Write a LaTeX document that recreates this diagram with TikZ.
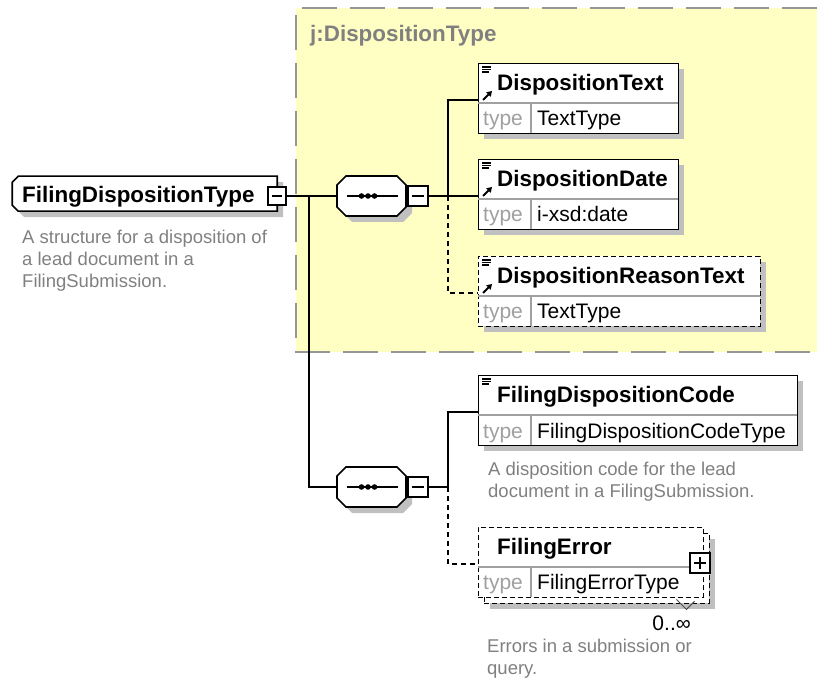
\documentclass[tikz,border=0pt]{standalone}
\usepackage{fontspec}
\setmainfont{Liberation Sans}
\usetikzlibrary{positioning,calc,arrows.meta,backgrounds}

\definecolor{groupfill}{RGB}{255,255,196}
\definecolor{groupline}{RGB}{150,150,150}
\definecolor{shadegrey}{RGB}{192,192,192}
\definecolor{docgrey}{RGB}{128,128,128}
\definecolor{typegrey}{RGB}{160,160,160}

\tikzset{every picture/.style={line width=1.6pt}}
\tikzset{
  conn/.style={draw=black, line width=1.6pt},
  optconn/.style={conn, dash pattern=on 5pt off 4pt},
  elbox/.style={draw=black, fill=white, rectangle, inner sep=0pt, anchor=north west, minimum height=70pt},
  optbox/.style={elbox, dash pattern=on 5pt off 3pt},
  split/.style={draw=typegrey, line width=1.2pt},
  holder/.style={rectangle, draw=none, inner sep=0pt},
  pmbox/.style={draw=black, fill=white, rectangle, inner sep=0pt, minimum size=20pt, line width=1.4pt,
    path picture={\draw[line width=1.2pt] ($(path picture bounding box.west)!0.2!(path picture bounding box.east)$) -- ($(path picture bounding box.west)!0.8!(path picture bounding box.east)$);}},
  plusbox/.style={pmbox,
    path picture={\draw[line width=1.2pt] ($(path picture bounding box.west)!0.2!(path picture bounding box.east)$) -- ($(path picture bounding box.west)!0.8!(path picture bounding box.east)$);
      \draw[line width=1.2pt] ($(path picture bounding box.south)!0.2!(path picture bounding box.north)$) -- ($(path picture bounding box.south)!0.8!(path picture bounding box.north)$);}},
  elname/.style={font=\fontsize{22.4}{26}\selectfont\bfseries, inner sep=0pt, anchor=base west},
  tyname/.style={font=\fontsize{21}{24}\selectfont, text=typegrey, inner sep=0pt, anchor=base west},
  tyval/.style={font=\fontsize{21}{24}\selectfont, inner sep=0pt, anchor=base west},
  doc/.style={font=\fontsize{18.5}{22}\selectfont, text=docgrey, align=left, inner sep=0pt, anchor=north west},
  icon/.style={line width=1.1pt},
  refarrow/.style={line width=1.8pt, -{Triangle[length=5pt,width=6pt]}},
  % octagon of a sequence compositor, 69 x 40
  seqshape/.pic={\path[pic actions, line width=1.6pt] (-25.5,-20) -- (25.5,-20) -- (34.5,-11) -- (34.5,11) -- (25.5,20) -- (-25.5,20) -- (-34.5,11) -- (-34.5,-11) -- cycle;},
  % complex type box, 265 x 35, left corners cut
  typeshape/.pic={\path[pic actions, line width=1.6pt] (-126.5,-17.5) -- (132.5,-17.5) -- (132.5,17.5) -- (-126.5,17.5) -- (-132.5,11.5) -- (-132.5,-11.5) -- cycle;},
}

\begin{document}
\begin{tikzpicture}[x=1pt,y=1pt,yscale=-1]
\useasboundingbox (0,0) rectangle (817,679);

%Group j:DispositionType
\begin{pgfonlayer}{background}
\fill[groupfill] (296,8) rectangle (817,352);
\draw[groupline, line width=2pt, dash pattern=on 35pt off 13pt] (817,8) -- (296,8) -- (296,352) -- (817,352);
\end{pgfonlayer}
\node[elname, text=docgrey] (grouplabel) at (310,42) {j:DispositionType};

%Root complex type
\node[holder, minimum width=265pt, minimum height=35pt, anchor=north west] (root) at (12,176) {};
\pic[draw=black, fill=white] at (root.center) {typeshape};
\node[elname] (rootname) at ($(root.north west)+(10,27)$) {FilingDispositionType};
\node[pmbox, minimum size=18pt] (rootpm) at (277,196) {};
\node[doc] (rootdoc) at (22,229.5) {A structure for a disposition of\\a lead document in a\\FilingSubmission.};
\coordinate (rootbus) at (309,196);

%Sequence 1
\node[holder, minimum width=69pt, minimum height=40pt] (seq1) at (371.5,196) {};
\pic[draw=black, fill=white] at (seq1.center) {seqshape};
\draw[line width=1.4pt] ($(seq1.center)+(-25,0)$) -- ($(seq1.center)+(26,0)$);
\fill ($(seq1.center)+(-10,0)$) circle[radius=2.8pt];
\fill ($(seq1.center)+(-3.5,0)$) circle[radius=2.8pt];
\fill ($(seq1.center)+(3,0)$) circle[radius=2.8pt];
\node[pmbox, right=1pt of seq1] (seq1pm) {};
\coordinate (bus1) at (448,196);

%Element DispositionText
\node[elbox, minimum width=200pt] (dtext) at (478,63) {};
\draw[split] ($(dtext.north west)+(0,40)$) -- ($(dtext.north east)+(0,40)$);
\draw[split] ($(dtext.north west)+(53,40)$) -- ($(dtext.south west)+(53,0)$);
\node[elname] (dtextname) at ($(dtext.north west)+(19,27.5)$) {DispositionText};
\node[tyname] (dtexttype) at ($(dtext.north west)+(5,63)$) {type};
\node[tyval] (dtextval) at ($(dtext.north west)+(59,63)$) {TextType};
\draw[icon] ($(dtext.north west)+(4,4)$) -- ++(9,0) ($(dtext.north west)+(4,6.5)$) -- ++(9,0) ($(dtext.north west)+(4,9)$) -- ++(7,0);
\draw[refarrow] ($(dtext.north west)+(5,37)$) -- ++(9,-9);

%Element DispositionDate
\node[elbox, minimum width=200pt] (ddate) at (478,159) {};
\draw[split] ($(ddate.north west)+(0,40)$) -- ($(ddate.north east)+(0,40)$);
\draw[split] ($(ddate.north west)+(53,40)$) -- ($(ddate.south west)+(53,0)$);
\node[elname] (ddatename) at ($(ddate.north west)+(19,27.5)$) {DispositionDate};
\node[tyname] (ddatetype) at ($(ddate.north west)+(5,63)$) {type};
\node[tyval] (ddateval) at ($(ddate.north west)+(59,63)$) {i-xsd:date};
\draw[icon] ($(ddate.north west)+(4,4)$) -- ++(9,0) ($(ddate.north west)+(4,6.5)$) -- ++(9,0) ($(ddate.north west)+(4,9)$) -- ++(7,0);
\draw[refarrow] ($(ddate.north west)+(5,37)$) -- ++(9,-9);

%Element DispositionReasonText (optional)
\node[optbox, minimum width=282pt] (dreason) at (478,256) {};
\draw[split] ($(dreason.north west)+(0,40)$) -- ($(dreason.north east)+(0,40)$);
\draw[split] ($(dreason.north west)+(53,40)$) -- ($(dreason.south west)+(53,0)$);
\node[elname] (dreasonname) at ($(dreason.north west)+(19,27.5)$) {DispositionReasonText};
\node[tyname] (dreasontype) at ($(dreason.north west)+(5,63)$) {type};
\node[tyval] (dreasonval) at ($(dreason.north west)+(59,63)$) {TextType};
\draw[icon] ($(dreason.north west)+(4,4)$) -- ++(9,0) ($(dreason.north west)+(4,6.5)$) -- ++(9,0) ($(dreason.north west)+(4,9)$) -- ++(7,0);
\draw[refarrow] ($(dreason.north west)+(5,37)$) -- ++(9,-9);

%Sequence 2
\node[holder, minimum width=69pt, minimum height=40pt] (seq2) at (371.5,487) {};
\pic[draw=black, fill=white] at (seq2.center) {seqshape};
\draw[line width=1.4pt] ($(seq2.center)+(-25,0)$) -- ($(seq2.center)+(26,0)$);
\fill ($(seq2.center)+(-10,0)$) circle[radius=2.8pt];
\fill ($(seq2.center)+(-3.5,0)$) circle[radius=2.8pt];
\fill ($(seq2.center)+(3,0)$) circle[radius=2.8pt];
\node[pmbox, right=1pt of seq2] (seq2pm) {};
\coordinate (bus2) at (448,487);

%Element FilingDispositionCode
\node[elbox, minimum width=319pt] (fcode) at (478,375) {};
\draw[split] ($(fcode.north west)+(0,40)$) -- ($(fcode.north east)+(0,40)$);
\draw[split] ($(fcode.north west)+(53,40)$) -- ($(fcode.south west)+(53,0)$);
\node[elname] (fcodename) at ($(fcode.north west)+(19,27.5)$) {FilingDispositionCode};
\node[tyname] (fcodetype) at ($(fcode.north west)+(5,63)$) {type};
\node[tyval] (fcodeval) at ($(fcode.north west)+(59,63)$) {FilingDispositionCodeType};
\draw[icon] ($(fcode.north west)+(4,4)$) -- ++(9,0) ($(fcode.north west)+(4,6.5)$) -- ++(9,0) ($(fcode.north west)+(4,9)$) -- ++(7,0);
\node[doc] (fcodedoc) at (488,461.5) {A disposition code for the lead\\document in a FilingSubmission.};

%Element FilingError (0..unbounded)
\node[optbox, minimum width=225pt] (ferrback) at (484,533) {};
\node[optbox, minimum width=225pt] (ferr) at (478,527) {};
\draw[split] ($(ferr.north west)+(0,40)$) -- ($(ferr.north east)+(0,40)$);
\draw[split] ($(ferr.north west)+(53,40)$) -- ($(ferr.south west)+(53,0)$);
\node[elname] (ferrname) at ($(ferr.north west)+(19,27)$) {FilingError};
\node[tyname] (ferrtype) at ($(ferr.north west)+(5,62)$) {type};
\node[tyval] (ferrval) at ($(ferr.north west)+(59,62)$) {FilingErrorType};
\node[plusbox] (ferrpm) at (700,563) {};
\draw[line width=1pt, draw=black!70] ($(ferrback.south east)+(-33,-4)$) -- ++(10,10) -- ++(8,-8);
\node[tyval, anchor=base east] (ferrmult) at (691,630) {0..∞};
\node[doc] (ferrdoc) at (487,638.5) {Errors in a submission or\\query.};

%Shadows
\begin{pgfonlayer}{background}
\pic[fill=shadegrey] at ($(root.center)+(6,6)$) {typeshape};
\pic[fill=shadegrey] at ($(seq1.center)+(6,6)$) {seqshape};
\pic[fill=shadegrey] at ($(seq2.center)+(6,6)$) {seqshape};
\fill[shadegrey] ($(dtext.north west)+(6,6)$) rectangle ($(dtext.south east)+(6,6)$);
\fill[shadegrey] ($(ddate.north west)+(6,6)$) rectangle ($(ddate.south east)+(6,6)$);
\fill[shadegrey] ($(dreason.north west)+(6,6)$) rectangle ($(dreason.south east)+(6,6)$);
\fill[shadegrey] ($(fcode.north west)+(6,6)$) rectangle ($(fcode.south east)+(6,6)$);
\fill[shadegrey] ($(ferrback.north west)+(6,6)$) rectangle ($(ferrback.south east)+(6,6)$);
\end{pgfonlayer}

%Connectors
\draw[conn] (rootpm.east) -- (seq1.west);
\draw[conn] (rootbus) |- (seq2.west);
\draw[conn] (seq1pm.east) -- (bus1);
\draw[conn] (bus1) |- ($(dtext.north west)+(0,37)$);
\draw[conn] (bus1) -- (bus1 -| ddate.west);
\draw[optconn] (bus1) |- ($(dreason.north west)+(0,37)$);
\draw[conn] (seq2pm.east) -- (bus2);
\draw[conn] (bus2) |- ($(fcode.north west)+(0,37)$);
\draw[optconn] (bus2) |- ($(ferr.north west)+(0,37)$);

\end{tikzpicture}
\end{document}
